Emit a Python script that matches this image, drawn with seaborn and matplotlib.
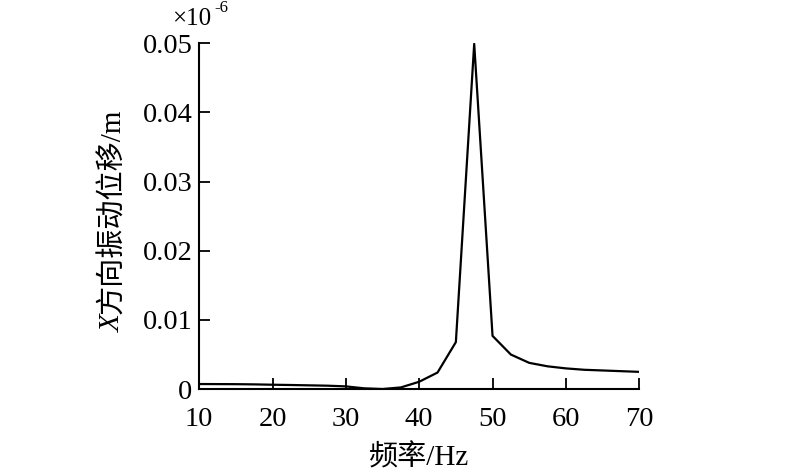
import matplotlib
matplotlib.use("Agg")
import matplotlib.pyplot as plt
import seaborn as sns
import pandas as pd

# Data (values in units of 1e-6 m)
freq_hz = [10, 12.5, 15, 17.5, 20, 22.5, 25, 27.5, 30, 32.5, 35, 37.5, 40,
           42.5, 45, 47.5, 50, 52.5, 55, 57.5, 60, 62.5, 65, 67.5, 70]
disp_x = [0.00074, 0.00073, 0.00072, 0.00069, 0.00064, 0.00060, 0.00055,
          0.00050, 0.00040, 0.00012, 0.00002, 0.00025, 0.00107, 0.0024,
          0.0068, 0.0499, 0.0077, 0.0050, 0.0038, 0.0033, 0.0030, 0.0028,
          0.0027, 0.0026, 0.0025]
x_ticks = [10, 20, 30, 40, 50, 60, 70]
y_ticks = [0, 0.01, 0.02, 0.03, 0.04, 0.05]
y_tick_labels = ["0", "0.01", "0.02", "0.03", "0.04", "0.05"]

sns.set_theme(style="ticks")
plt.rcParams['font.family'] = ['Liberation Serif', 'Noto Sans CJK SC', 'DejaVu Sans']
plt.rcParams['axes.unicode_minus'] = False

df = pd.DataFrame({"freq": freq_hz, "disp": disp_x})

fig = plt.figure(figsize=(8, 4.74), dpi=100)
ax = fig.add_axes([0.249, 0.179, 0.550, 0.730])
sns.lineplot(data=df, x="freq", y="disp", color="black", linewidth=1.6, ax=ax)

ax.set_xlim(10, 70)
ax.set_ylim(0, 0.05)
ax.set_xticks(x_ticks)
ax.set_yticks(y_ticks)
ax.set_yticklabels(y_tick_labels)
ax.tick_params(direction="in", length=8, width=1.3, labelsize=20.5, colors="black")
ax.tick_params(axis="x", pad=13)
ax.tick_params(axis="y", pad=5)
for s in ["top", "right"]:
    ax.spines[s].set_visible(False)
for s in ["left", "bottom"]:
    ax.spines[s].set_color("black")
    ax.spines[s].set_linewidth(1.5)

ax.set_xlabel("频率/Hz", fontsize=21, color="black", labelpad=9)
ax.set_ylabel("")

# y label with italic X
tx = fig.text(0.141, 0.300, "X", fontsize=21, style="italic", rotation=90,
              ha="center", va="bottom", color="black")
ax.annotate("方向振动位移/m", xy=(0.5, 1.0), xycoords=tx, fontsize=21,
            rotation=90, ha="center", va="bottom", color="black")

# offset text
fig.text(0.215, 0.960, "×10", fontsize=18, ha="left", va="center", color="black")
fig.text(0.268, 0.983, "-6", fontsize=12, ha="left", va="center", color="black")

fig.savefig("out.png", dpi=100)
